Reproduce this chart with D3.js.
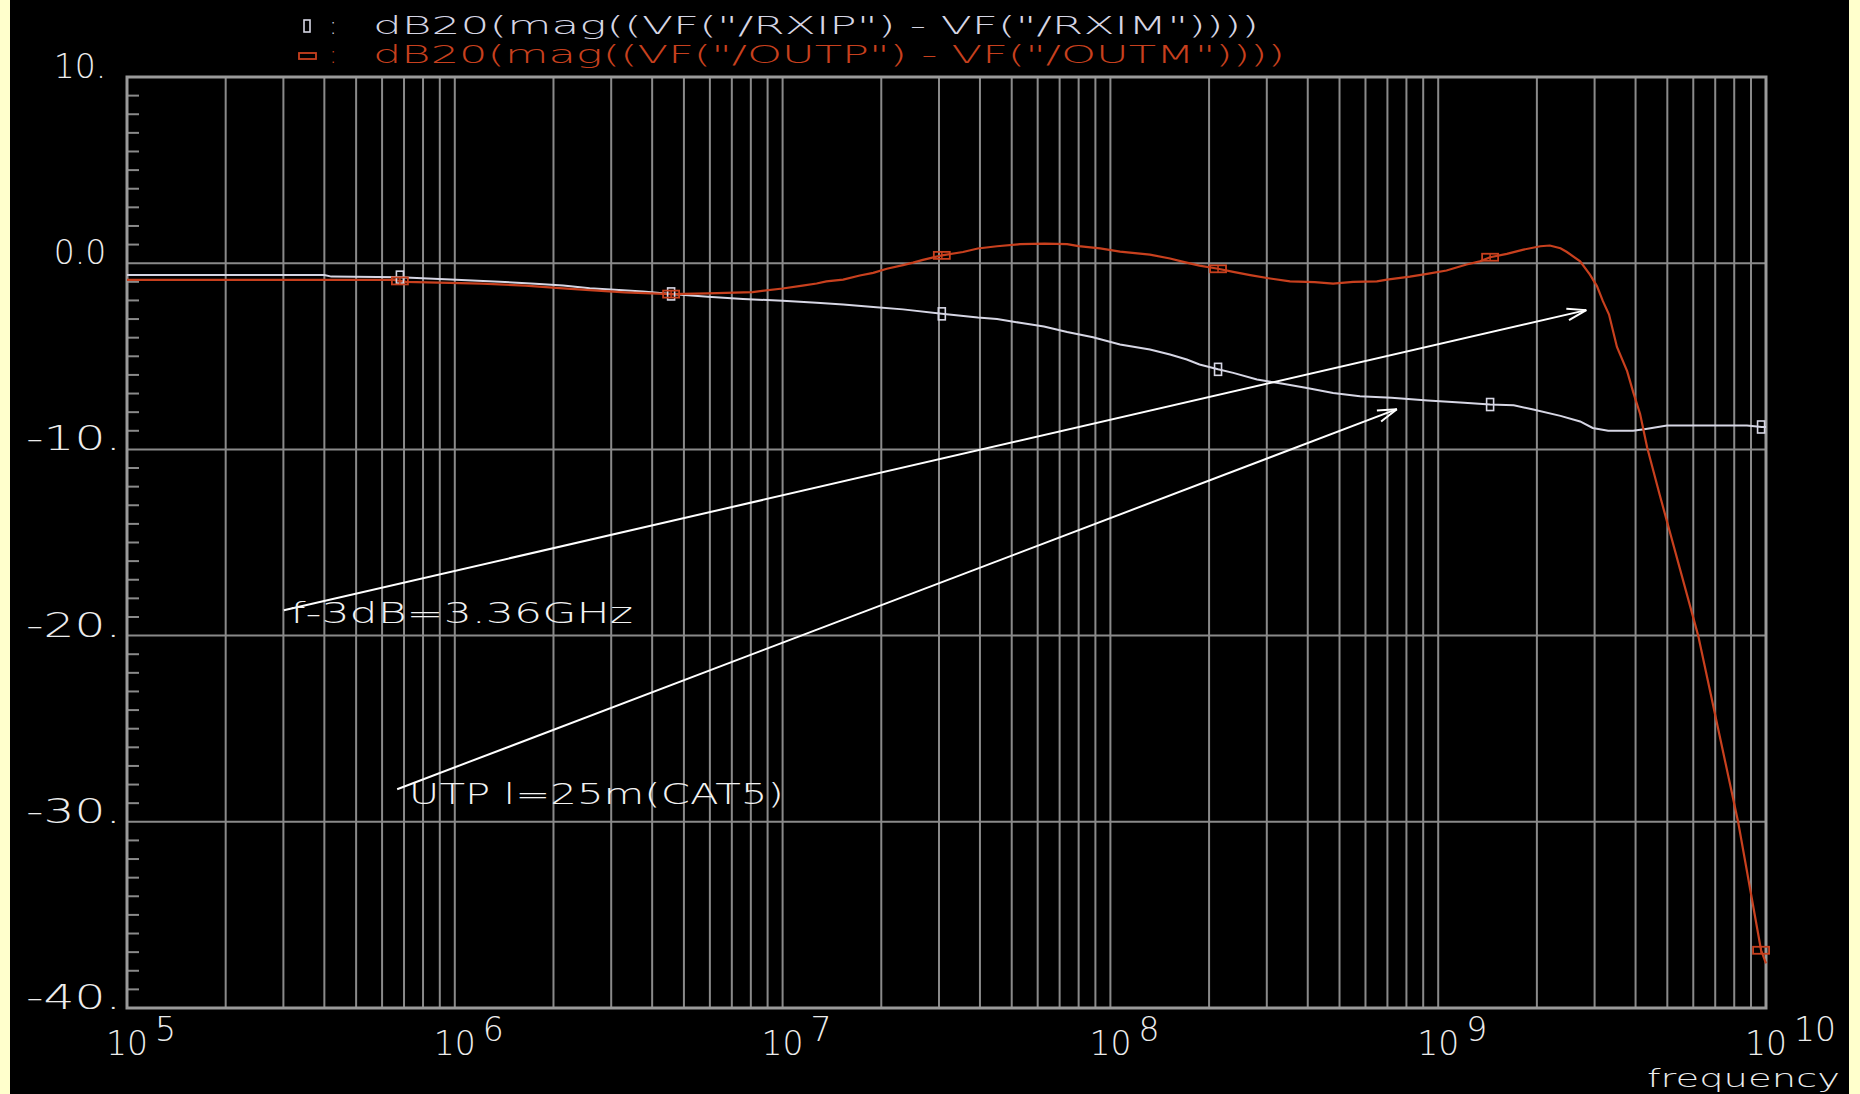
<!DOCTYPE html>
<html>
<head>
<meta charset="utf-8">
<script src="https://cdn.jsdelivr.net/npm/d3@7"></script>
<style>
html,body{margin:0;padding:0;background:#000;overflow:hidden;}
svg{display:block;}
text{font-family:"DejaVu Sans","Liberation Sans",sans-serif;font-weight:200;}
</style>
</head>
<body>
<svg id="chart" width="1860" height="1094"></svg>
<script>
// ---------------- data ----------------
const rxFreq = [1e5,4.0e5,4.2e5,6.8e5,9.7e5,1.37e6,1.76e6,2.14e6,2.58e6,3.26e6,3.75e6,4.57e6,5.92e6,7.57e6,
  1.0e7,1.27e7,1.53e7,1.89e7,2.33e7,3.06e7,3.94e7,4.51e7,5.30e7,6.27e7,7.38e7,8.85e7,
  1.07e8,1.32e8,1.52e8,1.71e8,1.87e8,2.13e8,2.37e8,2.80e8,3.36e8,3.98e8,4.78e8,5.77e8,7.2e8,9.3e8,
  1.2e9,1.44e9,1.7e9,1.95e9,2.36e9,2.71e9,2.96e9,3.3e9,3.93e9,4.3e9,4.99e9,8.75e9,9.7e9,1.0e10];
const rxDb = [-0.64,-0.64,-0.72,-0.75,-0.88,-1.0,-1.1,-1.2,-1.34,-1.45,-1.52,-1.65,-1.8,-1.92,
  -2.02,-2.12,-2.22,-2.35,-2.48,-2.72,-2.92,-3.0,-3.2,-3.4,-3.7,-3.98,
  -4.37,-4.64,-4.9,-5.17,-5.44,-5.7,-5.89,-6.25,-6.48,-6.7,-6.97,-7.14,-7.23,-7.37,
  -7.5,-7.59,-7.63,-7.86,-8.2,-8.5,-8.85,-9.0,-9.0,-8.9,-8.72,-8.72,-8.8,-8.8];

const outFreq = [1e5,6.5e5,7.1e5,1.21e6,1.64e6,2.09e6,2.58e6,3.30e6,4.57e6,5.92e6,8.1e6,
  1.0e7,1.15e7,1.27e7,1.36e7,1.53e7,1.72e7,1.89e7,2.08e7,2.33e7,2.50e7,2.68e7,3.06e7,3.55e7,3.94e7,4.51e7,5.3e7,6.3e7,7.38e7,8.0e7,9.3e7,
  1.07e8,1.32e8,1.52e8,1.67e8,1.87e8,2.13e8,2.37e8,2.67e8,3.07e8,3.53e8,4.2e8,4.78e8,5.5e8,6.5e8,6.98e8,8.20e8,9.25e8,
  1.06e9,1.22e9,1.34e9,1.44e9,1.62e9,1.82e9,2.05e9,2.19e9,2.36e9,2.47e9,2.71e9,2.90e9,3.05e9,3.18e9,3.32e9,3.51e9,3.77e9,3.93e9,4.13e9,4.34e9,4.75e9,6.21e9,8.22e9,9.66e9,1.0e10];
const outDb = [-0.9,-0.9,-1.0,-1.1,-1.2,-1.34,-1.45,-1.57,-1.66,-1.62,-1.55,
  -1.36,-1.2,-1.09,-0.98,-0.88,-0.66,-0.52,-0.3,-0.1,0.03,0.18,0.42,0.6,0.79,0.91,1.02,1.05,1.02,0.92,0.8,
  0.62,0.46,0.25,0.07,-0.13,-0.3,-0.47,-0.64,-0.82,-0.98,-1.02,-1.1,-1.0,-0.98,-0.88,-0.72,-0.57,
  -0.39,-0.07,0.1,0.32,0.5,0.73,0.91,0.95,0.8,0.6,0.1,-0.6,-1.23,-2.04,-2.76,-4.5,-5.8,-6.9,-8.1,-9.9,-12.5,-20,-30,-36.9,-37.6];

const markerFreq = [6.8e5,4.57e6,3.06e7,2.13e8,1.44e9,9.66e9];

const yTickValues = [10,0,-10,-20,-30,-40];
const yTickLabels = ["10.","0.0","-10.","-20.","-30.","-40."];
const decadeExps = [5,6,7,8,9,10];

const legendLabels = ['dB20(mag((VF("/RXIP") - VF("/RXIM"))))','dB20(mag((VF("/OUTP") - VF("/OUTM"))))'];

// annotations: [freq, dB] in data space
const noteTexts = ["f-3dB=3.36GHz","UTP l=25m(CAT5)"];
const notePos = [[3.14e5,-19.33],[7.24e5,-29.05]];
const arrowFrom = [[3.01e5,-18.64],[6.67e5,-28.25]];
const arrowTo = [[2.83e9,-2.52],[7.48e8,-7.84]];

// ---------------- layout ----------------
const W = 1860, H = 1094;
const plot = {left:127, right:1766, top:77, bottom:1008};
const WHITE = "#d6d6e4", RED = "#c8401e", GRID = "#8a8a8a", TEXT = "#ececec";

const svg = d3.select("#chart");
svg.append("rect").attr("width",W).attr("height",H).attr("fill","#000");
svg.append("rect").attr("x",0).attr("y",0).attr("width",10).attr("height",H).attr("fill","#ffffcc");
svg.append("rect").attr("x",1849).attr("y",0).attr("width",11).attr("height",H).attr("fill","#ffffcc");

const x = d3.scaleLog().domain([1e5,1e10]).range([plot.left,plot.right]);
const y = d3.scaleLinear().domain([-40,10]).range([plot.bottom,plot.top]);

// vertical grid (log minor)
const vTicks = x.ticks(50);
const gGrid = svg.append("g");
gGrid.selectAll("line.v").data(vTicks).enter().append("line")
  .attr("x1",d=>x(d)).attr("x2",d=>x(d)).attr("y1",plot.top).attr("y2",plot.bottom)
  .attr("stroke",GRID).attr("stroke-width",2);
gGrid.selectAll("line.h").data(yTickValues).enter().append("line")
  .attr("x1",plot.left).attr("x2",plot.right).attr("y1",d=>y(d)).attr("y2",d=>y(d))
  .attr("stroke",GRID).attr("stroke-width",2);

// minor ticks on left axis every 1 dB
const minor = d3.range(-40,10,1).filter(v=>v%10!==0);
gGrid.selectAll("line.m").data(minor).enter().append("line")
  .attr("x1",plot.left).attr("x2",plot.left+12).attr("y1",d=>y(d)).attr("y2",d=>y(d))
  .attr("stroke",GRID).attr("stroke-width",2);

// frame
svg.append("rect").attr("x",plot.left).attr("y",plot.top)
  .attr("width",plot.right-plot.left).attr("height",plot.bottom-plot.top)
  .attr("fill","none").attr("stroke","#9a9a9a").attr("stroke-width",3);

// y labels
yTickValues.forEach((v,i)=>{
  const s = yTickLabels[i];
  const t = svg.append("text").attr("y",y(v)+1).attr("fill",TEXT).attr("font-size",33).text(s);
  if (s.startsWith("-")) t.attr("x",26).attr("textLength",95).attr("lengthAdjust","spacingAndGlyphs");
  else t.attr("x",80).attr("text-anchor","middle");
});

// x labels
decadeExps.forEach(e=>{
  const cx = x(Math.pow(10,e));
  svg.append("text").attr("x",cx).attr("y",1055).attr("text-anchor","middle")
    .attr("fill",TEXT).attr("font-size",33).text("10");
  svg.append("text").attr("x",cx+28).attr("y",1041)
    .attr("fill",TEXT).attr("font-size",33).text(String(e));
});
svg.append("text").attr("x",1647).attr("y",1087).attr("fill",TEXT).attr("font-size",25)
  .attr("textLength",193).attr("lengthAdjust","spacingAndGlyphs").text("frequency");

// curves
const line = d3.line().x(d=>x(d[0])).y(d=>y(d[1]));
const rxData = rxFreq.map((f,i)=>[f,rxDb[i]]);
const outData = outFreq.map((f,i)=>[f,outDb[i]]);

svg.append("path").datum(rxData).attr("d",line).attr("fill","none").attr("stroke",WHITE).attr("stroke-width",2);
svg.append("path").datum(outData).attr("d",line).attr("fill","none").attr("stroke",RED).attr("stroke-width",2.2);

function interp(fs, ds, f){
  const lf = Math.log10(f);
  for (let i=0;i<fs.length-1;i++){
    const a=Math.log10(fs[i]), b=Math.log10(fs[i+1]);
    if (lf>=a && lf<=b){ const t=(lf-a)/(b-a||1); return ds[i]+t*(ds[i+1]-ds[i]); }
  }
  return ds[ds.length-1];
}
markerFreq.forEach(f=>{
  const mx = x(f);
  const wy = y(interp(rxFreq,rxDb,f));
  svg.append("rect").attr("x",mx-3.5).attr("y",wy-6).attr("width",7).attr("height",12)
    .attr("fill","none").attr("stroke",WHITE).attr("stroke-width",1.6);
  const ry = y(interp(outFreq,outDb,f));
  svg.append("rect").attr("x",mx-8).attr("y",ry-3.5).attr("width",16).attr("height",7)
    .attr("fill","none").attr("stroke",RED).attr("stroke-width",1.8);
  svg.append("line").attr("x1",mx).attr("x2",mx).attr("y1",ry-3.5).attr("y2",ry+3.5)
    .attr("stroke",RED).attr("stroke-width",1.5);
});

// arrows
arrowFrom.forEach((p,i)=>{
  const x1=x(p[0]), y1=y(p[1]), x2=x(arrowTo[i][0]), y2=y(arrowTo[i][1]);
  svg.append("line").attr("x1",x1).attr("y1",y1).attr("x2",x2).attr("y2",y2)
    .attr("stroke","#ffffff").attr("stroke-width",2);
  const ang = Math.atan2(y1-y2, x1-x2);
  [0.3,-0.3].forEach(da=>{
    svg.append("line").attr("x1",x2).attr("y1",y2)
      .attr("x2",x2+20*Math.cos(ang+da)).attr("y2",y2+20*Math.sin(ang+da))
      .attr("stroke","#ffffff").attr("stroke-width",2);
  });
});
// annotation texts
noteTexts.forEach((s,i)=>{
  svg.append("text").attr("x",x(notePos[i][0])).attr("y",y(notePos[i][1]))
    .attr("fill","#f2f2f2").attr("font-size",28)
    .attr("textLength", i===0?343:375).attr("lengthAdjust","spacingAndGlyphs").text(s);
});

// legend
const legY = [34,63];
const legColors = [WHITE, RED];
const legLen = [886, 912];
svg.append("rect").attr("x",304).attr("y",20).attr("width",6).attr("height",12)
  .attr("fill","none").attr("stroke",WHITE).attr("stroke-width",1.6);
svg.append("rect").attr("x",299).attr("y",53).attr("width",17).attr("height",6)
  .attr("fill","none").attr("stroke",RED).attr("stroke-width",1.8);
legendLabels.forEach((s,i)=>{
  svg.append("text").attr("x",329).attr("y",legY[i]).attr("fill",legColors[i]).attr("font-size",24.5).text(":");
  svg.append("text").attr("x",373).attr("y",legY[i]).attr("fill",legColors[i]).attr("font-size",24.5)
    .attr("textLength",legLen[i]).attr("lengthAdjust","spacingAndGlyphs").text(s);
});
</script>
</body>
</html>
